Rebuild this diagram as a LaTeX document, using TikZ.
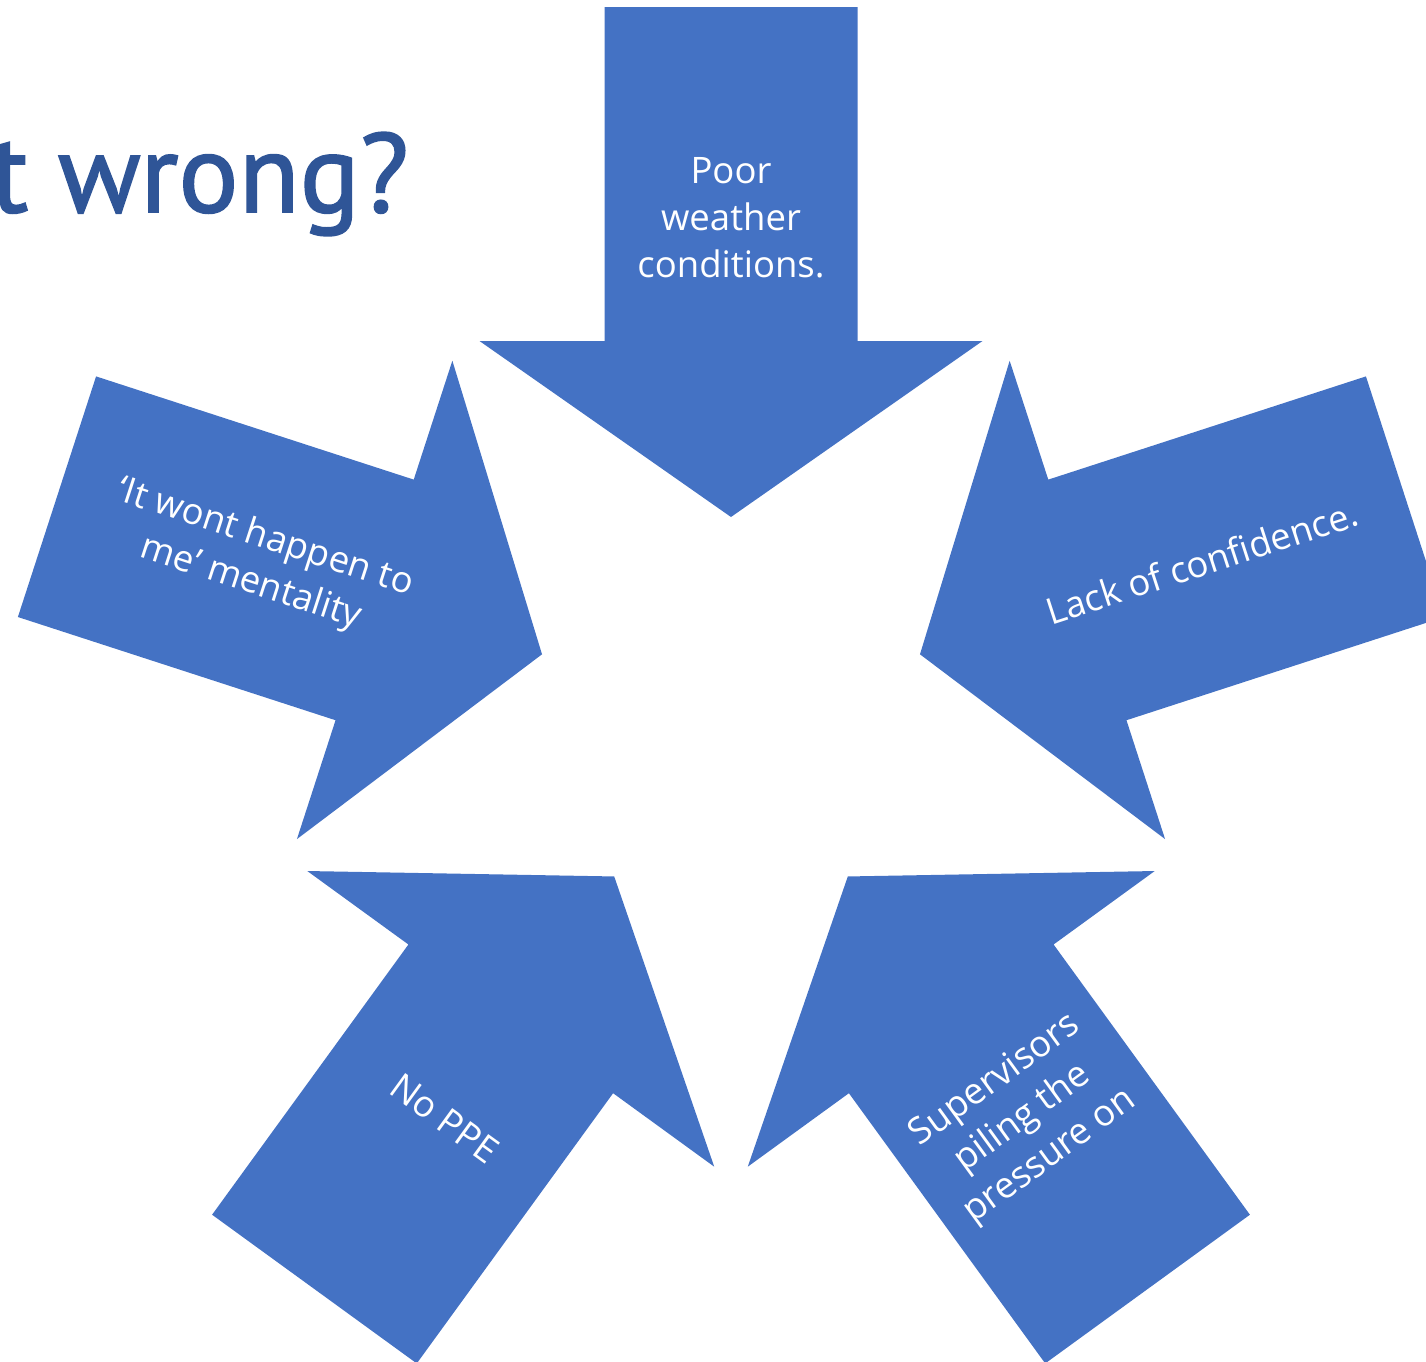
\documentclass[tikz,border=0pt]{standalone}
\usepackage{fontspec}
\setmainfont{Open Sans}
\newfontfamily\titlefont[FakeBold=1.6]{PT Sans}
\definecolor{arrowblue}{HTML}{4472C4}
\definecolor{titleblue}{HTML}{2F5597}
\begin{document}
\begin{tikzpicture}[x=1pt,y=-1pt,
  arrowshape/.style={fill=arrowblue, draw=none},
  lbl/.style={text=white, font=\fontsize{36.5}{47}\selectfont, align=center, inner sep=0pt}]
\useasboundingbox (0,0) rectangle (1426,1361);
\clip (0,0) rectangle (1426,1361);
\coordinate (c) at (731,715.7);
\foreach \a in {0,72,-72,144,-144}{
 \begin{scope}[rotate around={\a:(c)}]
  \path[arrowshape] (604.5,7) -- (857.5,7) -- (857.5,341) -- (982.5,341) -- (731,517) -- (479.5,341) -- (604.5,341) -- cycle;
 \end{scope}
}
\node[lbl] (t1) at (731,218) {Poor\\weather\\conditions.};
\node[lbl, rotate=-18] (t2) at (258,561) {‘It wont happen to\\me’ mentality};
\node[lbl, rotate=18, anchor=base] (t3) at (1206,575) {Lack of confidence.};
\node[lbl, rotate=-36, anchor=base] (t4) at (437,1129) {No PPE};
\node[lbl, rotate=36] (t5) at (1023,1119) {Supervisors\\piling the\\pressure on};
\node[text=titleblue, font=\titlefont\fontsize{112}{112}\selectfont, anchor=base east, inner sep=0pt] (title) at (409,212) {t wrong?};
\end{tikzpicture}
\end{document}
